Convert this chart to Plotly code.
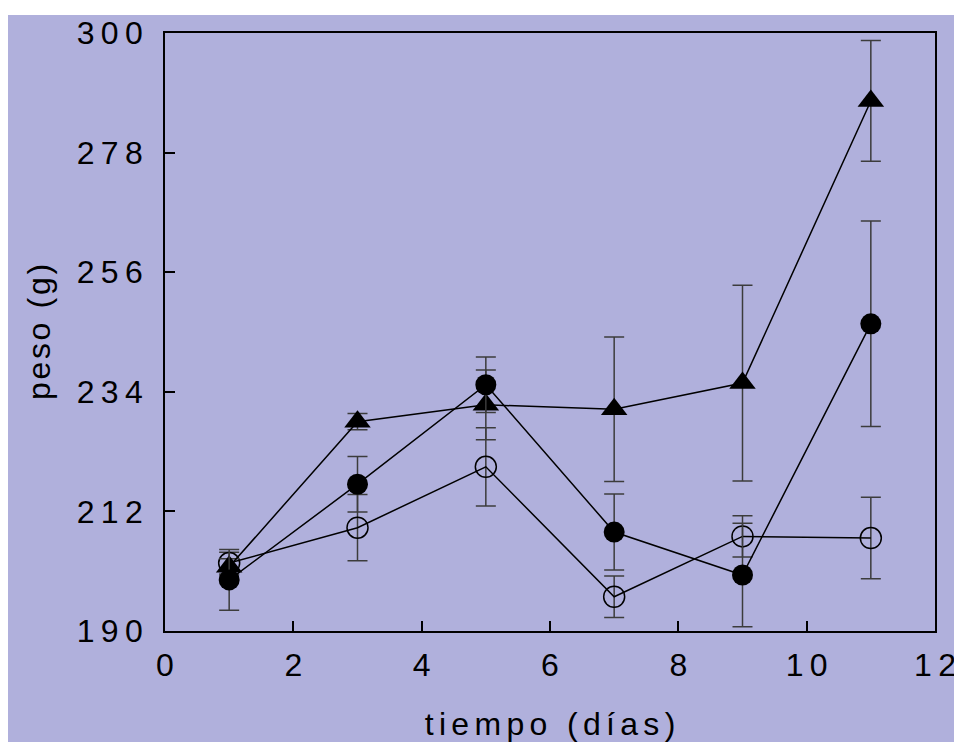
import plotly.graph_objects as go

# ---- data ----
dias = [1, 3, 5, 7, 9, 11]

abierto = [202.5, 209.0, 220.2, 196.3, 207.4, 207.1]
abierto_err = [2.0, 6.1, 7.2, 3.8, 3.8, 7.5]

lleno = [199.4, 217.0, 235.3, 208.2, 200.3, 246.5]
lleno_err = [5.6, 5.1, 5.1, 7.0, 9.5, 18.9]

triangulo = [201.8, 228.5, 231.6, 230.8, 235.6, 287.5]
triangulo_err = [1.5, 1.5, 6.4, 13.3, 18.0, 11.1]

x_ticks = [0, 2, 4, 6, 8, 10, 12]
y_ticks = [190, 212, 234, 256, 278, 300]

x_title = "tiempo (días)"
y_title = "peso (g)"

# ---- style ----
FONT = "Liberation Sans, Arial, sans-serif"
BG = "#b0b0dc"
ERRC = "#3c3c3c"


def spaced(s, sep="\u2009"):
    return sep.join(str(s))


def err(vals):
    return dict(type="data", array=vals, visible=True, color=ERRC,
                thickness=1.5, width=10)


fig = go.Figure()

fig.add_trace(go.Scatter(
    x=dias, y=abierto, mode="lines+markers", error_y=err(abierto_err),
    line=dict(color="black", width=1.5),
    marker=dict(symbol="circle-open", size=21, color="black",
                line=dict(width=1.5, color="black")),
    showlegend=False))

fig.add_trace(go.Scatter(
    x=dias, y=triangulo, mode="lines+markers", error_y=err(triangulo_err),
    line=dict(color="black", width=1.5),
    marker=dict(symbol="triangle-up", size=23, color="black"),
    showlegend=False))

fig.add_trace(go.Scatter(
    x=dias, y=lleno, mode="lines+markers", error_y=err(lleno_err),
    line=dict(color="black", width=1.5),
    marker=dict(symbol="circle", size=21, color="black"),
    showlegend=False))

axis_common = dict(
    showline=True, mirror=True, linecolor="black", linewidth=1.5,
    ticks="inside", ticklen=10, tickwidth=1.5, tickcolor="black",
    showgrid=False, zeroline=False, ticklabeloverflow="allow",
    tickfont=dict(family=FONT, size=32, color="black"),
)

fig.update_xaxes(
    range=[0, 12], tickvals=x_ticks, ticktext=[spaced(v) for v in x_ticks],
    ticklabelstandoff=5,
    title=dict(text=spaced(x_title, "\u2006"),
               font=dict(family=FONT, size=32, color="black"),
               standoff=30),
    **axis_common)

fig.update_yaxes(
    range=[190, 300], tickvals=y_ticks, ticktext=[spaced(v) for v in y_ticks],
    ticklabelstandoff=14,
    title=dict(text=spaced(y_title, "\u200a"),
               font=dict(family=FONT, size=32, color="black"),
               standoff=16),
    **axis_common)

L, R, T, B = 165, 19, 33, 111
W, H = 954, 742
pw, ph = W - L - R, H - T - B


def px2paper_x(px):
    return (px - L) / pw


def px2paper_y(py):
    return (H - B - py) / ph


fig.add_shape(type="rect", xref="paper", yref="paper", layer="below",
              x0=px2paper_x(8), x1=px2paper_x(W + 5),
              y0=px2paper_y(H + 5), y1=px2paper_y(15),
              fillcolor=BG, line=dict(width=0))

fig.update_layout(
    width=W, height=H,
    margin=dict(l=L, r=R, t=T, b=B, autoexpand=False),
    paper_bgcolor="white", plot_bgcolor="rgba(0,0,0,0)",
    font=dict(family=FONT, color="black"),
)

fig.write_html("out.html")
